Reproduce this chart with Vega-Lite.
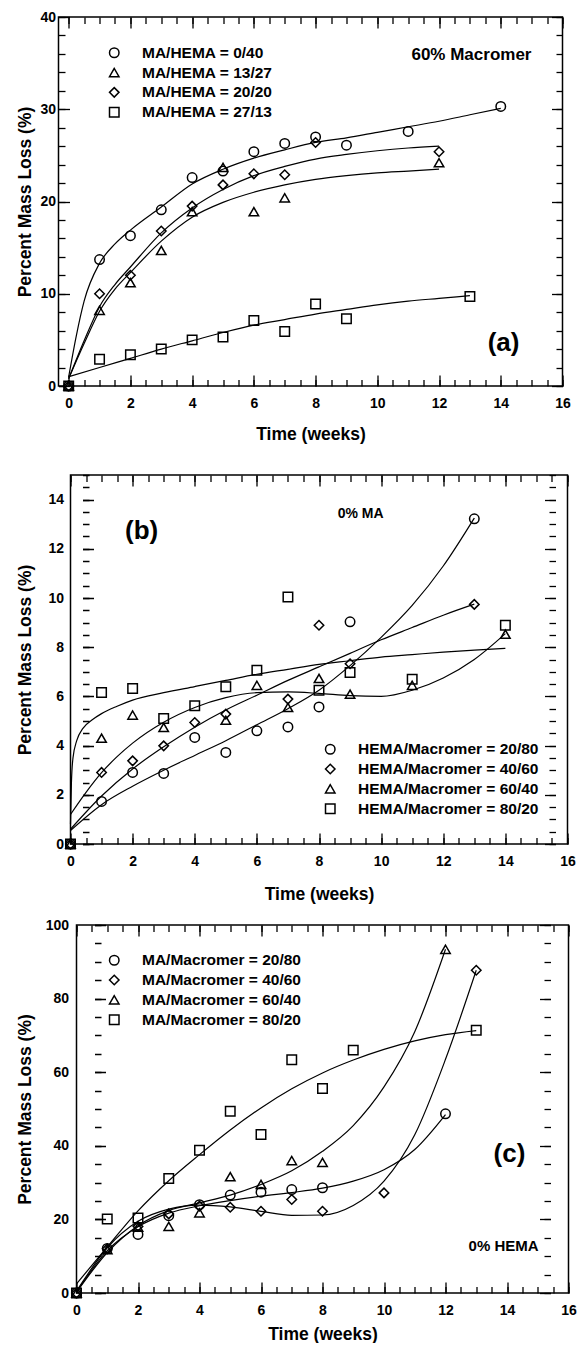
{
  "$schema": "https://vega.github.io/schema/vega-lite/v6.json",
  "padding": {"left": 16.5, "top": 10, "right": 0, "bottom": 0},
  "config": {
    "view": {"stroke": null},
    "font": "Liberation Sans",
    "axis": {"domain": false, "grid": false, "labelFont": "Liberation Sans", "labelFontWeight": "bold", "labelFontSize": 14, "labelColor": "black", "titleFont": "Liberation Sans", "titleFontWeight": "bold", "titleFontSize": 17.5, "titleColor": "black", "labelFlush": false, "labelOverlap": false, "titlePadding": 0},
    "legend": {"orient": "none", "title": null, "padding": 0, "labelFont": "Liberation Sans", "labelFontWeight": "bold", "labelFontSize": 15.5, "labelColor": "black", "labelLimit": 400, "labelOffset": 20, "symbolSize": 90, "symbolStrokeWidth": 1.5, "symbolStrokeColor": "black", "symbolFillColor": "transparent"},
    "text": {"font": "Liberation Sans", "fontWeight": "bold", "color": "black"}
  },
  "datasets": {
    "a_points": [
      {"series": "MA/HEMA = 0/40", "week": 0, "loss": 0}, {"series": "MA/HEMA = 0/40", "week": 1, "loss": 13.7}, {"series": "MA/HEMA = 0/40", "week": 2, "loss": 16.3}, {"series": "MA/HEMA = 0/40", "week": 3, "loss": 19.1}, {"series": "MA/HEMA = 0/40", "week": 4, "loss": 22.6}, {"series": "MA/HEMA = 0/40", "week": 5, "loss": 23.3}, {"series": "MA/HEMA = 0/40", "week": 6, "loss": 25.4}, {"series": "MA/HEMA = 0/40", "week": 7, "loss": 26.3}, {"series": "MA/HEMA = 0/40", "week": 8, "loss": 27.0}, {"series": "MA/HEMA = 0/40", "week": 9, "loss": 26.1}, {"series": "MA/HEMA = 0/40", "week": 11, "loss": 27.6}, {"series": "MA/HEMA = 0/40", "week": 14, "loss": 30.3},
      {"series": "MA/HEMA = 13/27", "week": 0, "loss": 0}, {"series": "MA/HEMA = 13/27", "week": 1, "loss": 8.2}, {"series": "MA/HEMA = 13/27", "week": 2, "loss": 11.2}, {"series": "MA/HEMA = 13/27", "week": 3, "loss": 14.7}, {"series": "MA/HEMA = 13/27", "week": 4, "loss": 18.9}, {"series": "MA/HEMA = 13/27", "week": 5, "loss": 23.7}, {"series": "MA/HEMA = 13/27", "week": 6, "loss": 18.9}, {"series": "MA/HEMA = 13/27", "week": 7, "loss": 20.4}, {"series": "MA/HEMA = 13/27", "week": 12, "loss": 24.2},
      {"series": "MA/HEMA = 20/20", "week": 0, "loss": 0}, {"series": "MA/HEMA = 20/20", "week": 1, "loss": 10.0}, {"series": "MA/HEMA = 20/20", "week": 2, "loss": 12.0}, {"series": "MA/HEMA = 20/20", "week": 3, "loss": 16.8}, {"series": "MA/HEMA = 20/20", "week": 4, "loss": 19.5}, {"series": "MA/HEMA = 20/20", "week": 5, "loss": 21.8}, {"series": "MA/HEMA = 20/20", "week": 6, "loss": 23.0}, {"series": "MA/HEMA = 20/20", "week": 7, "loss": 22.9}, {"series": "MA/HEMA = 20/20", "week": 8, "loss": 26.4}, {"series": "MA/HEMA = 20/20", "week": 12, "loss": 25.4},
      {"series": "MA/HEMA = 27/13", "week": 0, "loss": 0}, {"series": "MA/HEMA = 27/13", "week": 1, "loss": 2.9}, {"series": "MA/HEMA = 27/13", "week": 2, "loss": 3.4}, {"series": "MA/HEMA = 27/13", "week": 3, "loss": 4.0}, {"series": "MA/HEMA = 27/13", "week": 4, "loss": 5.0}, {"series": "MA/HEMA = 27/13", "week": 5, "loss": 5.3}, {"series": "MA/HEMA = 27/13", "week": 6, "loss": 7.1}, {"series": "MA/HEMA = 27/13", "week": 7, "loss": 5.9}, {"series": "MA/HEMA = 27/13", "week": 8, "loss": 8.9}, {"series": "MA/HEMA = 27/13", "week": 9, "loss": 7.3}, {"series": "MA/HEMA = 27/13", "week": 13, "loss": 9.7}
    ],
    "a_fit": [
      {"series": "0/40", "week": 0, "loss": 1.0}, {"series": "0/40", "week": 0.25, "loss": 5.5}, {"series": "0/40", "week": 0.5, "loss": 9.2}, {"series": "0/40", "week": 1, "loss": 13.3}, {"series": "0/40", "week": 1.5, "loss": 15.4}, {"series": "0/40", "week": 2, "loss": 16.9}, {"series": "0/40", "week": 3, "loss": 19.4}, {"series": "0/40", "week": 4, "loss": 21.9}, {"series": "0/40", "week": 5, "loss": 23.5}, {"series": "0/40", "week": 6, "loss": 24.7}, {"series": "0/40", "week": 7, "loss": 25.6}, {"series": "0/40", "week": 8, "loss": 26.4}, {"series": "0/40", "week": 9, "loss": 26.9}, {"series": "0/40", "week": 10, "loss": 27.5}, {"series": "0/40", "week": 11, "loss": 28.1}, {"series": "0/40", "week": 12, "loss": 28.7}, {"series": "0/40", "week": 13, "loss": 29.4}, {"series": "0/40", "week": 14, "loss": 30.1},
      {"series": "13/27", "week": 0, "loss": 0.8}, {"series": "13/27", "week": 0.5, "loss": 4.6}, {"series": "13/27", "week": 1, "loss": 8.1}, {"series": "13/27", "week": 1.5, "loss": 10.5}, {"series": "13/27", "week": 2, "loss": 12.3}, {"series": "13/27", "week": 3, "loss": 15.7}, {"series": "13/27", "week": 4, "loss": 18.3}, {"series": "13/27", "week": 5, "loss": 19.9}, {"series": "13/27", "week": 6, "loss": 21.0}, {"series": "13/27", "week": 7, "loss": 21.8}, {"series": "13/27", "week": 8, "loss": 22.4}, {"series": "13/27", "week": 9, "loss": 22.8}, {"series": "13/27", "week": 10, "loss": 23.1}, {"series": "13/27", "week": 11, "loss": 23.3}, {"series": "13/27", "week": 12, "loss": 23.5},
      {"series": "20/20", "week": 0, "loss": 0.8}, {"series": "20/20", "week": 0.5, "loss": 4.9}, {"series": "20/20", "week": 1, "loss": 8.6}, {"series": "20/20", "week": 1.5, "loss": 11.0}, {"series": "20/20", "week": 2, "loss": 12.9}, {"series": "20/20", "week": 3, "loss": 16.6}, {"series": "20/20", "week": 4, "loss": 19.3}, {"series": "20/20", "week": 5, "loss": 21.3}, {"series": "20/20", "week": 6, "loss": 22.8}, {"series": "20/20", "week": 7, "loss": 23.8}, {"series": "20/20", "week": 8, "loss": 24.6}, {"series": "20/20", "week": 9, "loss": 25.1}, {"series": "20/20", "week": 10, "loss": 25.5}, {"series": "20/20", "week": 11, "loss": 25.8}, {"series": "20/20", "week": 12, "loss": 26.0},
      {"series": "27/13", "week": 0, "loss": 1.0}, {"series": "27/13", "week": 1, "loss": 2.0}, {"series": "27/13", "week": 2, "loss": 3.0}, {"series": "27/13", "week": 3, "loss": 4.0}, {"series": "27/13", "week": 4, "loss": 4.9}, {"series": "27/13", "week": 5, "loss": 5.8}, {"series": "27/13", "week": 6, "loss": 6.6}, {"series": "27/13", "week": 7, "loss": 7.2}, {"series": "27/13", "week": 8, "loss": 7.8}, {"series": "27/13", "week": 9, "loss": 8.3}, {"series": "27/13", "week": 10, "loss": 8.8}, {"series": "27/13", "week": 11, "loss": 9.2}, {"series": "27/13", "week": 12, "loss": 9.5}, {"series": "27/13", "week": 13, "loss": 9.8}
    ],
    "b_points": [
      {"series": "HEMA/Macromer = 20/80", "week": 0, "loss": 0}, {"series": "HEMA/Macromer = 20/80", "week": 1, "loss": 1.73}, {"series": "HEMA/Macromer = 20/80", "week": 2, "loss": 2.91}, {"series": "HEMA/Macromer = 20/80", "week": 3, "loss": 2.87}, {"series": "HEMA/Macromer = 20/80", "week": 4, "loss": 4.33}, {"series": "HEMA/Macromer = 20/80", "week": 5, "loss": 3.72}, {"series": "HEMA/Macromer = 20/80", "week": 6, "loss": 4.6}, {"series": "HEMA/Macromer = 20/80", "week": 7, "loss": 4.76}, {"series": "HEMA/Macromer = 20/80", "week": 8, "loss": 5.57}, {"series": "HEMA/Macromer = 20/80", "week": 9, "loss": 9.03}, {"series": "HEMA/Macromer = 20/80", "week": 13, "loss": 13.22},
      {"series": "HEMA/Macromer = 40/60", "week": 0, "loss": 0}, {"series": "HEMA/Macromer = 40/60", "week": 1, "loss": 2.91}, {"series": "HEMA/Macromer = 40/60", "week": 2, "loss": 3.38}, {"series": "HEMA/Macromer = 40/60", "week": 3, "loss": 3.99}, {"series": "HEMA/Macromer = 40/60", "week": 4, "loss": 4.94}, {"series": "HEMA/Macromer = 40/60", "week": 5, "loss": 5.28}, {"series": "HEMA/Macromer = 40/60", "week": 7, "loss": 5.89}, {"series": "HEMA/Macromer = 40/60", "week": 8, "loss": 8.89}, {"series": "HEMA/Macromer = 40/60", "week": 9, "loss": 7.33}, {"series": "HEMA/Macromer = 40/60", "week": 13, "loss": 9.74},
      {"series": "HEMA/Macromer = 60/40", "week": 0, "loss": 0}, {"series": "HEMA/Macromer = 60/40", "week": 1, "loss": 4.3}, {"series": "HEMA/Macromer = 60/40", "week": 2, "loss": 5.24}, {"series": "HEMA/Macromer = 60/40", "week": 3, "loss": 4.74}, {"series": "HEMA/Macromer = 60/40", "week": 5, "loss": 5.03}, {"series": "HEMA/Macromer = 60/40", "week": 6, "loss": 6.45}, {"series": "HEMA/Macromer = 60/40", "week": 7, "loss": 5.55}, {"series": "HEMA/Macromer = 60/40", "week": 8, "loss": 6.73}, {"series": "HEMA/Macromer = 60/40", "week": 9, "loss": 6.09}, {"series": "HEMA/Macromer = 60/40", "week": 11, "loss": 6.45}, {"series": "HEMA/Macromer = 60/40", "week": 14, "loss": 8.53},
      {"series": "HEMA/Macromer = 80/20", "week": 0, "loss": 0}, {"series": "HEMA/Macromer = 80/20", "week": 1, "loss": 6.16}, {"series": "HEMA/Macromer = 80/20", "week": 2, "loss": 6.32}, {"series": "HEMA/Macromer = 80/20", "week": 3, "loss": 5.1}, {"series": "HEMA/Macromer = 80/20", "week": 4, "loss": 5.62}, {"series": "HEMA/Macromer = 80/20", "week": 5, "loss": 6.39}, {"series": "HEMA/Macromer = 80/20", "week": 6, "loss": 7.06}, {"series": "HEMA/Macromer = 80/20", "week": 7, "loss": 10.04}, {"series": "HEMA/Macromer = 80/20", "week": 8, "loss": 6.25}, {"series": "HEMA/Macromer = 80/20", "week": 9, "loss": 6.97}, {"series": "HEMA/Macromer = 80/20", "week": 11, "loss": 6.7}, {"series": "HEMA/Macromer = 80/20", "week": 14, "loss": 8.89}
    ],
    "b_fit": [
      {"series": "20/80", "week": 0, "loss": 0.55}, {"series": "20/80", "week": 1, "loss": 1.6}, {"series": "20/80", "week": 2, "loss": 2.35}, {"series": "20/80", "week": 3, "loss": 3.0}, {"series": "20/80", "week": 4, "loss": 3.6}, {"series": "20/80", "week": 5, "loss": 4.2}, {"series": "20/80", "week": 6, "loss": 4.85}, {"series": "20/80", "week": 7, "loss": 5.5}, {"series": "20/80", "week": 8, "loss": 6.25}, {"series": "20/80", "week": 9, "loss": 7.25}, {"series": "20/80", "week": 10, "loss": 8.4}, {"series": "20/80", "week": 11, "loss": 9.7}, {"series": "20/80", "week": 12, "loss": 11.3}, {"series": "20/80", "week": 13, "loss": 13.25},
      {"series": "40/60", "week": 0, "loss": 0.6}, {"series": "40/60", "week": 1, "loss": 1.95}, {"series": "40/60", "week": 2, "loss": 3.05}, {"series": "40/60", "week": 3, "loss": 3.95}, {"series": "40/60", "week": 4, "loss": 4.75}, {"series": "40/60", "week": 5, "loss": 5.45}, {"series": "40/60", "week": 6, "loss": 6.05}, {"series": "40/60", "week": 7, "loss": 6.65}, {"series": "40/60", "week": 8, "loss": 7.2}, {"series": "40/60", "week": 9, "loss": 7.75}, {"series": "40/60", "week": 10, "loss": 8.3}, {"series": "40/60", "week": 11, "loss": 8.8}, {"series": "40/60", "week": 12, "loss": 9.3}, {"series": "40/60", "week": 13, "loss": 9.75},
      {"series": "60/40", "week": 0, "loss": 1.2}, {"series": "60/40", "week": 0.5, "loss": 2.1}, {"series": "60/40", "week": 1, "loss": 2.9}, {"series": "60/40", "week": 1.5, "loss": 3.55}, {"series": "60/40", "week": 2, "loss": 4.1}, {"series": "60/40", "week": 3, "loss": 4.95}, {"series": "60/40", "week": 4, "loss": 5.55}, {"series": "60/40", "week": 5, "loss": 5.95}, {"series": "60/40", "week": 6, "loss": 6.15}, {"series": "60/40", "week": 7, "loss": 6.18}, {"series": "60/40", "week": 8, "loss": 6.12}, {"series": "60/40", "week": 9, "loss": 6.03}, {"series": "60/40", "week": 10, "loss": 6.0}, {"series": "60/40", "week": 11, "loss": 6.25}, {"series": "60/40", "week": 12, "loss": 6.75}, {"series": "60/40", "week": 13, "loss": 7.5}, {"series": "60/40", "week": 14, "loss": 8.55},
      {"series": "80/20", "week": 0, "loss": 0.8}, {"series": "80/20", "week": 0.03, "loss": 2.5}, {"series": "80/20", "week": 0.08, "loss": 3.5}, {"series": "80/20", "week": 0.2, "loss": 4.2}, {"series": "80/20", "week": 0.4, "loss": 4.7}, {"series": "80/20", "week": 0.7, "loss": 5.05}, {"series": "80/20", "week": 1, "loss": 5.3}, {"series": "80/20", "week": 1.5, "loss": 5.6}, {"series": "80/20", "week": 2, "loss": 5.85}, {"series": "80/20", "week": 3, "loss": 6.15}, {"series": "80/20", "week": 4, "loss": 6.4}, {"series": "80/20", "week": 5, "loss": 6.65}, {"series": "80/20", "week": 6, "loss": 6.9}, {"series": "80/20", "week": 7, "loss": 7.1}, {"series": "80/20", "week": 8, "loss": 7.3}, {"series": "80/20", "week": 9, "loss": 7.45}, {"series": "80/20", "week": 10, "loss": 7.6}, {"series": "80/20", "week": 11, "loss": 7.7}, {"series": "80/20", "week": 12, "loss": 7.8}, {"series": "80/20", "week": 13, "loss": 7.88}, {"series": "80/20", "week": 14, "loss": 7.95}
    ],
    "c_points": [
      {"series": "MA/Macromer = 20/80", "week": 0, "loss": 0}, {"series": "MA/Macromer = 20/80", "week": 1, "loss": 12.1}, {"series": "MA/Macromer = 20/80", "week": 2, "loss": 15.9}, {"series": "MA/Macromer = 20/80", "week": 3, "loss": 21.0}, {"series": "MA/Macromer = 20/80", "week": 4, "loss": 24.0}, {"series": "MA/Macromer = 20/80", "week": 5, "loss": 26.6}, {"series": "MA/Macromer = 20/80", "week": 6, "loss": 27.4}, {"series": "MA/Macromer = 20/80", "week": 7, "loss": 28.1}, {"series": "MA/Macromer = 20/80", "week": 8, "loss": 28.6}, {"series": "MA/Macromer = 20/80", "week": 12, "loss": 48.7},
      {"series": "MA/Macromer = 40/60", "week": 0, "loss": 0}, {"series": "MA/Macromer = 40/60", "week": 1, "loss": 12.0}, {"series": "MA/Macromer = 40/60", "week": 2, "loss": 18.1}, {"series": "MA/Macromer = 40/60", "week": 3, "loss": 21.5}, {"series": "MA/Macromer = 40/60", "week": 4, "loss": 23.6}, {"series": "MA/Macromer = 40/60", "week": 5, "loss": 23.3}, {"series": "MA/Macromer = 40/60", "week": 6, "loss": 22.2}, {"series": "MA/Macromer = 40/60", "week": 7, "loss": 25.4}, {"series": "MA/Macromer = 40/60", "week": 8, "loss": 22.2}, {"series": "MA/Macromer = 40/60", "week": 10, "loss": 27.2}, {"series": "MA/Macromer = 40/60", "week": 13, "loss": 87.7},
      {"series": "MA/Macromer = 60/40", "week": 0, "loss": 0}, {"series": "MA/Macromer = 60/40", "week": 1, "loss": 11.8}, {"series": "MA/Macromer = 60/40", "week": 2, "loss": 17.9}, {"series": "MA/Macromer = 60/40", "week": 3, "loss": 18.1}, {"series": "MA/Macromer = 60/40", "week": 4, "loss": 21.8}, {"series": "MA/Macromer = 60/40", "week": 5, "loss": 31.6}, {"series": "MA/Macromer = 60/40", "week": 6, "loss": 29.5}, {"series": "MA/Macromer = 60/40", "week": 7, "loss": 36.0}, {"series": "MA/Macromer = 60/40", "week": 8, "loss": 35.5}, {"series": "MA/Macromer = 60/40", "week": 12, "loss": 93.4},
      {"series": "MA/Macromer = 80/20", "week": 0, "loss": 0}, {"series": "MA/Macromer = 80/20", "week": 1, "loss": 20.1}, {"series": "MA/Macromer = 80/20", "week": 2, "loss": 20.4}, {"series": "MA/Macromer = 80/20", "week": 3, "loss": 31.1}, {"series": "MA/Macromer = 80/20", "week": 4, "loss": 38.8}, {"series": "MA/Macromer = 80/20", "week": 5, "loss": 49.4}, {"series": "MA/Macromer = 80/20", "week": 6, "loss": 43.1}, {"series": "MA/Macromer = 80/20", "week": 7, "loss": 63.4}, {"series": "MA/Macromer = 80/20", "week": 8, "loss": 55.6}, {"series": "MA/Macromer = 80/20", "week": 9, "loss": 66.0}, {"series": "MA/Macromer = 80/20", "week": 13, "loss": 71.4}
    ],
    "c_fit": [
      {"series": "20/80", "week": 0, "loss": 0.3}, {"series": "20/80", "week": 1, "loss": 11.5}, {"series": "20/80", "week": 2, "loss": 18.0}, {"series": "20/80", "week": 3, "loss": 21.7}, {"series": "20/80", "week": 4, "loss": 23.7}, {"series": "20/80", "week": 5, "loss": 25.1}, {"series": "20/80", "week": 6, "loss": 26.3}, {"series": "20/80", "week": 7, "loss": 27.3}, {"series": "20/80", "week": 8, "loss": 28.5}, {"series": "20/80", "week": 9, "loss": 30.4}, {"series": "20/80", "week": 10, "loss": 33.5}, {"series": "20/80", "week": 11, "loss": 39.0}, {"series": "20/80", "week": 12, "loss": 48.5},
      {"series": "40/60", "week": 0, "loss": 0.5}, {"series": "40/60", "week": 1, "loss": 12.3}, {"series": "40/60", "week": 2, "loss": 19.5}, {"series": "40/60", "week": 3, "loss": 22.8}, {"series": "40/60", "week": 4, "loss": 23.9}, {"series": "40/60", "week": 5, "loss": 23.4}, {"series": "40/60", "week": 6, "loss": 22.2}, {"series": "40/60", "week": 7, "loss": 21.1}, {"series": "40/60", "week": 8, "loss": 21.2}, {"series": "40/60", "week": 9, "loss": 23.8}, {"series": "40/60", "week": 10, "loss": 30.4}, {"series": "40/60", "week": 11, "loss": 43.0}, {"series": "40/60", "week": 12, "loss": 63.5}, {"series": "40/60", "week": 13, "loss": 87.7},
      {"series": "60/40", "week": 0, "loss": 0.2}, {"series": "60/40", "week": 1, "loss": 11.0}, {"series": "60/40", "week": 2, "loss": 18.3}, {"series": "60/40", "week": 3, "loss": 22.4}, {"series": "60/40", "week": 4, "loss": 24.5}, {"series": "60/40", "week": 5, "loss": 26.6}, {"series": "60/40", "week": 6, "loss": 29.5}, {"series": "60/40", "week": 7, "loss": 33.2}, {"series": "60/40", "week": 8, "loss": 38.5}, {"series": "60/40", "week": 9, "loss": 45.5}, {"series": "60/40", "week": 10, "loss": 56.0}, {"series": "60/40", "week": 11, "loss": 71.0}, {"series": "60/40", "week": 12, "loss": 93.4},
      {"series": "80/20", "week": 0, "loss": 2.5}, {"series": "80/20", "week": 1, "loss": 12.5}, {"series": "80/20", "week": 2, "loss": 22.3}, {"series": "80/20", "week": 3, "loss": 30.5}, {"series": "80/20", "week": 4, "loss": 37.6}, {"series": "80/20", "week": 5, "loss": 44.3}, {"series": "80/20", "week": 6, "loss": 50.3}, {"series": "80/20", "week": 7, "loss": 55.5}, {"series": "80/20", "week": 8, "loss": 59.8}, {"series": "80/20", "week": 9, "loss": 63.3}, {"series": "80/20", "week": 10, "loss": 66.2}, {"series": "80/20", "week": 11, "loss": 68.5}, {"series": "80/20", "week": 12, "loss": 70.2}, {"series": "80/20", "week": 13, "loss": 71.3}
    ]
  },
  "resolve": {"scale": {"x": "independent", "y": "independent", "shape": "independent"}, "legend": {"shape": "independent"}},
  "spacing": 31,
  "vconcat": [
    {
      "width": 504, "height": 369,
      "resolve": {"scale": {"x": "independent", "y": "independent"}, "axis": {"x": "independent", "y": "independent"}},
      "layer": [
        {
          "data": {"values": [{}]},
          "mark": {"type": "rect", "filled": false, "color": "black", "strokeWidth": 1.5},
          "encoding": {
            "x": {"datum": -0.33, "type": "quantitative", "scale": {"domain": [-0.33, 16], "range": [0, 504], "nice": false, "zero": false}, "axis": {"orient": "bottom", "values": [0, 2, 4, 6, 8, 10, 12, 14, 16], "ticks": false, "labelPadding": 10.5, "title": "Time (weeks)", "minExtent": 39.4, "maxExtent": 39.4}},
            "x2": {"datum": 16},
            "y": {"datum": 0, "type": "quantitative", "scale": {"domain": [0, 40], "nice": false, "zero": false}, "axis": {"orient": "left", "values": [0, 10, 20, 30, 40], "ticks": false, "labelPadding": 3, "title": "Percent Mass Loss (%)", "minExtent": 24, "maxExtent": 24}},
            "y2": {"datum": 40}
          }
        },
        {
          "data": {"name": "a_points"},
          "mark": {"type": "point", "filled": false, "color": "black", "strokeWidth": 1.5, "size": 90, "opacity": 1},
          "encoding": {
            "x": {"field": "week", "type": "quantitative", "scale": {"domain": [-0.33, 16], "range": [0, 504], "nice": false, "zero": false}, "axis": {"orient": "bottom", "values": [0, 2, 4, 6, 8, 10, 12, 14, 16], "labels": false, "ticks": false, "grid": true, "gridColor": "black", "gridWidth": 1.3, "gridOpacity": 1, "gridDash": [11, 2000], "title": null}},
            "y": {"field": "loss", "type": "quantitative", "scale": {"domain": [0, 40], "nice": false, "zero": false}, "axis": {"orient": "left", "values": [0, 10, 20, 30, 40], "labels": false, "ticks": false, "grid": true, "gridColor": "black", "gridWidth": 1.3, "gridOpacity": 1, "gridDash": [11, 2000], "title": null}},
            "shape": {"field": "series", "type": "nominal", "scale": {"domain": ["MA/HEMA = 0/40", "MA/HEMA = 13/27", "MA/HEMA = 20/20", "MA/HEMA = 27/13"], "range": ["circle", "triangle-up", "diamond", "square"]}, "legend": {"legendX": 48, "legendY": 28, "rowPadding": 2.8}}
          }
        },
        {
          "data": {"name": "a_fit"},
          "mark": {"type": "line", "color": "black", "strokeWidth": 1.2, "interpolate": "monotone"},
          "encoding": {
            "x": {"field": "week", "type": "quantitative", "scale": {"domain": [-0.33, 16], "range": [0, 504], "nice": false, "zero": false}, "axis": {"orient": "bottom", "values": [0, 0.5, 1, 1.5, 2, 2.5, 3, 3.5, 4, 4.5, 5, 5.5, 6, 6.5, 7, 7.5, 8, 8.5, 9, 9.5, 10, 10.5, 11, 11.5, 12, 12.5, 13, 13.5, 14, 14.5, 15, 15.5, 16], "labels": false, "ticks": false, "grid": true, "gridColor": "black", "gridWidth": 1.3, "gridOpacity": 1, "gridDash": [6.5, 2000], "title": null}},
            "y": {"field": "loss", "type": "quantitative", "scale": {"domain": [0, 40], "nice": false, "zero": false}, "axis": {"orient": "left", "values": [0, 2, 4, 6, 8, 10, 12, 14, 16, 18, 20, 22, 24, 26, 28, 30, 32, 34, 36, 38, 40], "labels": false, "ticks": false, "grid": true, "gridColor": "black", "gridWidth": 1.3, "gridOpacity": 1, "gridDash": [6.5, 2000], "title": null}},
            "detail": {"field": "series", "type": "nominal"}
          }
        },
        {
          "data": {"values": [{"note": "60% Macromer"}]},
          "mark": {"type": "text", "fontSize": 17, "align": "center", "baseline": "middle"},
          "encoding": {
            "x": {"datum": 13.05, "type": "quantitative", "scale": {"domain": [-0.33, 16], "range": [0, 504], "nice": false, "zero": false}, "axis": {"orient": "top", "values": [0, 2, 4, 6, 8, 10, 12, 14, 16], "labels": false, "ticks": false, "grid": true, "gridColor": "black", "gridWidth": 1.3, "gridOpacity": 1, "gridDash": [11, 2000], "title": null}},
            "y": {"datum": 35.9, "type": "quantitative", "scale": {"domain": [0, 40], "nice": false, "zero": false}, "axis": {"orient": "right", "values": [0, 10, 20, 30, 40], "labels": false, "ticks": false, "grid": true, "gridColor": "black", "gridWidth": 1.3, "gridOpacity": 1, "gridDash": [11, 2000], "title": null}},
            "text": {"field": "note"}
          }
        },
        {
          "data": {"values": [{"note": "(a)"}]},
          "mark": {"type": "text", "fontSize": 26, "align": "center", "baseline": "middle"},
          "encoding": {
            "x": {"datum": 14.09, "type": "quantitative", "scale": {"domain": [-0.33, 16], "range": [0, 504], "nice": false, "zero": false}, "axis": {"orient": "top", "values": [0, 0.5, 1, 1.5, 2, 2.5, 3, 3.5, 4, 4.5, 5, 5.5, 6, 6.5, 7, 7.5, 8, 8.5, 9, 9.5, 10, 10.5, 11, 11.5, 12, 12.5, 13, 13.5, 14, 14.5, 15, 15.5, 16], "labels": false, "ticks": false, "grid": true, "gridColor": "black", "gridWidth": 1.3, "gridOpacity": 1, "gridDash": [6.5, 2000], "title": null}},
            "y": {"datum": 4.66, "type": "quantitative", "scale": {"domain": [0, 40], "nice": false, "zero": false}, "axis": {"orient": "right", "values": [0, 2, 4, 6, 8, 10, 12, 14, 16, 18, 20, 22, 24, 26, 28, 30, 32, 34, 36, 38, 40], "labels": false, "ticks": false, "grid": true, "gridColor": "black", "gridWidth": 1.3, "gridOpacity": 1, "gridDash": [6.5, 2000], "title": null}},
            "text": {"field": "note"}
          }
        }
      ]
    },
    {
      "spacing": 15,
      "resolve": {"scale": {"x": "independent", "y": "independent", "shape": "independent"}, "legend": {"shape": "independent"}},
      "vconcat": [
        {
          "width": 509, "height": 369,
          "resolve": {"scale": {"x": "independent", "y": "independent"}, "axis": {"x": "independent", "y": "independent"}},
          "layer": [
            {
              "data": {"values": [{}]},
              "mark": {"type": "rect", "filled": false, "color": "black", "strokeWidth": 1.5},
              "encoding": {
                "x": {"datum": 0, "type": "quantitative", "scale": {"domain": [0, 16], "range": [12, 509], "nice": false, "zero": false}, "axis": {"orient": "bottom", "values": [0, 2, 4, 6, 8, 10, 12, 14, 16], "ticks": false, "labelPadding": 10.5, "title": "Time (weeks)", "minExtent": 41.4, "maxExtent": 41.4}},
                "x2": {"datum": 16},
                "y": {"datum": 0, "type": "quantitative", "scale": {"domain": [0, 15], "nice": false, "zero": false}, "axis": {"orient": "left", "offset": -12, "values": [0, 2, 4, 6, 8, 10, 12, 14], "ticks": false, "labelPadding": 7, "title": "Percent Mass Loss (%)", "minExtent": 36, "maxExtent": 36}},
                "y2": {"datum": 15}
              }
            },
            {
              "data": {"name": "b_points"},
              "mark": {"type": "point", "filled": false, "color": "black", "strokeWidth": 1.5, "size": 90, "opacity": 1},
              "encoding": {
                "x": {"field": "week", "type": "quantitative", "scale": {"domain": [0, 16], "range": [12, 509], "nice": false, "zero": false}, "axis": {"orient": "bottom", "values": [0, 2, 4, 6, 8, 10, 12, 14, 16], "labels": false, "ticks": false, "grid": true, "gridColor": "black", "gridWidth": 1.3, "gridOpacity": 1, "gridDash": [11, 2000], "title": null}},
                "y": {"field": "loss", "type": "quantitative", "scale": {"domain": [0, 15], "nice": false, "zero": false}, "axis": {"orient": "left", "values": [0, 2, 4, 6, 8, 10, 12, 14], "labels": false, "ticks": false, "grid": true, "gridColor": "black", "gridWidth": 1.3, "gridOpacity": 1, "gridDash": [0, 12, 11, 2000], "title": null}},
                "shape": {"field": "series", "type": "nominal", "scale": {"domain": ["HEMA/Macromer = 20/80", "HEMA/Macromer = 40/60", "HEMA/Macromer = 60/40", "HEMA/Macromer = 80/20"], "range": ["circle", "diamond", "triangle-up", "square"]}, "legend": {"legendX": 264, "legendY": 266.5, "rowPadding": 2.8}}
              }
            },
            {
              "data": {"name": "b_fit"},
              "mark": {"type": "line", "color": "black", "strokeWidth": 1.2, "interpolate": "monotone"},
              "encoding": {
                "x": {"field": "week", "type": "quantitative", "scale": {"domain": [0, 16], "range": [12, 509], "nice": false, "zero": false}, "axis": {"orient": "bottom", "values": [0, 0.5, 1, 1.5, 2, 2.5, 3, 3.5, 4, 4.5, 5, 5.5, 6, 6.5, 7, 7.5, 8, 8.5, 9, 9.5, 10, 10.5, 11, 11.5, 12, 12.5, 13, 13.5, 14, 14.5, 15, 15.5, 16], "labels": false, "ticks": false, "grid": true, "gridColor": "black", "gridWidth": 1.3, "gridOpacity": 1, "gridDash": [6.5, 2000], "title": null}},
                "y": {"field": "loss", "type": "quantitative", "scale": {"domain": [0, 15], "nice": false, "zero": false}, "axis": {"orient": "left", "values": [0, 0.5, 1, 1.5, 2, 2.5, 3, 3.5, 4, 4.5, 5, 5.5, 6, 6.5, 7, 7.5, 8, 8.5, 9, 9.5, 10, 10.5, 11, 11.5, 12, 12.5, 13, 13.5, 14, 14.5, 15], "labels": false, "ticks": false, "grid": true, "gridColor": "black", "gridWidth": 1.3, "gridOpacity": 1, "gridDash": [0, 12, 6.5, 2000], "title": null}},
                "detail": {"field": "series", "type": "nominal"}
              }
            },
            {
              "data": {"values": [{"note": "0% MA"}]},
              "mark": {"type": "text", "fontSize": 14, "align": "center", "baseline": "middle"},
              "encoding": {
                "x": {"datum": 9.34, "type": "quantitative", "scale": {"domain": [0, 16], "range": [12, 509], "nice": false, "zero": false}, "axis": {"orient": "top", "values": [0, 2, 4, 6, 8, 10, 12, 14, 16], "labels": false, "ticks": false, "grid": true, "gridColor": "black", "gridWidth": 1.3, "gridOpacity": 1, "gridDash": [11, 2000], "title": null}},
                "y": {"datum": 13.43, "type": "quantitative", "scale": {"domain": [0, 15], "nice": false, "zero": false}, "axis": {"orient": "right", "values": [0, 2, 4, 6, 8, 10, 12, 14], "labels": false, "ticks": false, "grid": true, "gridColor": "black", "gridWidth": 1.3, "gridOpacity": 1, "gridDash": [11, 2000], "title": null}},
                "text": {"field": "note"}
              }
            },
            {
              "data": {"values": [{"note": "(b)"}]},
              "mark": {"type": "text", "fontSize": 26, "align": "center", "baseline": "middle"},
              "encoding": {
                "x": {"datum": 2.29, "type": "quantitative", "scale": {"domain": [0, 16], "range": [12, 509], "nice": false, "zero": false}, "axis": {"orient": "top", "values": [0, 0.5, 1, 1.5, 2, 2.5, 3, 3.5, 4, 4.5, 5, 5.5, 6, 6.5, 7, 7.5, 8, 8.5, 9, 9.5, 10, 10.5, 11, 11.5, 12, 12.5, 13, 13.5, 14, 14.5, 15, 15.5, 16], "labels": false, "ticks": false, "grid": true, "gridColor": "black", "gridWidth": 1.3, "gridOpacity": 1, "gridDash": [6.5, 2000], "title": null}},
                "y": {"datum": 12.72, "type": "quantitative", "scale": {"domain": [0, 15], "nice": false, "zero": false}, "axis": {"orient": "right", "values": [0, 0.5, 1, 1.5, 2, 2.5, 3, 3.5, 4, 4.5, 5, 5.5, 6, 6.5, 7, 7.5, 8, 8.5, 9, 9.5, 10, 10.5, 11, 11.5, 12, 12.5, 13, 13.5, 14, 14.5, 15], "labels": false, "ticks": false, "grid": true, "gridColor": "black", "gridWidth": 1.3, "gridOpacity": 1, "gridDash": [6.5, 2000], "title": null}},
                "text": {"field": "note"}
              }
            }
          ]
        },
        {
          "width": 510, "height": 368,
          "resolve": {"scale": {"x": "independent", "y": "independent"}, "axis": {"x": "independent", "y": "independent"}},
          "layer": [
            {
              "data": {"values": [{}]},
              "mark": {"type": "rect", "filled": false, "color": "black", "strokeWidth": 1.5},
              "encoding": {
                "x": {"datum": 0, "type": "quantitative", "scale": {"domain": [0, 16], "range": [18, 510], "nice": false, "zero": false}, "axis": {"orient": "bottom", "values": [0, 2, 4, 6, 8, 10, 12, 14, 16], "ticks": false, "labelPadding": 10.5, "title": "Time (weeks)", "minExtent": 32.4, "maxExtent": 32.4}},
                "x2": {"datum": 16},
                "y": {"datum": 0, "type": "quantitative", "scale": {"domain": [0, 100], "nice": false, "zero": false}, "axis": {"orient": "left", "offset": -18, "values": [0, 20, 40, 60, 80, 100], "ticks": false, "labelPadding": 8, "title": "Percent Mass Loss (%)", "minExtent": 42, "maxExtent": 42}},
                "y2": {"datum": 100}
              }
            },
            {
              "data": {"name": "c_points"},
              "mark": {"type": "point", "filled": false, "color": "black", "strokeWidth": 1.5, "size": 90, "opacity": 1},
              "encoding": {
                "x": {"field": "week", "type": "quantitative", "scale": {"domain": [0, 16], "range": [18, 510], "nice": false, "zero": false}, "axis": {"orient": "bottom", "values": [0, 2, 4, 6, 8, 10, 12, 14, 16], "labels": false, "ticks": false, "grid": true, "gridColor": "black", "gridWidth": 1.3, "gridOpacity": 1, "gridDash": [11, 2000], "title": null}},
                "y": {"field": "loss", "type": "quantitative", "scale": {"domain": [0, 100], "nice": false, "zero": false}, "axis": {"orient": "left", "values": [0, 20, 40, 60, 80, 100], "labels": false, "ticks": false, "grid": true, "gridColor": "black", "gridWidth": 1.3, "gridOpacity": 1, "gridDash": [0, 18, 11, 2000], "title": null}},
                "shape": {"field": "series", "type": "nominal", "scale": {"domain": ["MA/Macromer = 20/80", "MA/Macromer = 40/60", "MA/Macromer = 60/40", "MA/Macromer = 80/20"], "range": ["circle", "diamond", "triangle-up", "square"]}, "legend": {"legendX": 48, "legendY": 27.5, "rowPadding": 2.8}}
              }
            },
            {
              "data": {"name": "c_fit"},
              "mark": {"type": "line", "color": "black", "strokeWidth": 1.2, "interpolate": "monotone"},
              "encoding": {
                "x": {"field": "week", "type": "quantitative", "scale": {"domain": [0, 16], "range": [18, 510], "nice": false, "zero": false}, "axis": {"orient": "bottom", "values": [0, 0.5, 1, 1.5, 2, 2.5, 3, 3.5, 4, 4.5, 5, 5.5, 6, 6.5, 7, 7.5, 8, 8.5, 9, 9.5, 10, 10.5, 11, 11.5, 12, 12.5, 13, 13.5, 14, 14.5, 15, 15.5, 16], "labels": false, "ticks": false, "grid": true, "gridColor": "black", "gridWidth": 1.3, "gridOpacity": 1, "gridDash": [6.5, 2000], "title": null}},
                "y": {"field": "loss", "type": "quantitative", "scale": {"domain": [0, 100], "nice": false, "zero": false}, "axis": {"orient": "left", "values": [0, 5, 10, 15, 20, 25, 30, 35, 40, 45, 50, 55, 60, 65, 70, 75, 80, 85, 90, 95, 100], "labels": false, "ticks": false, "grid": true, "gridColor": "black", "gridWidth": 1.3, "gridOpacity": 1, "gridDash": [0, 18, 6.5, 2000], "title": null}},
                "detail": {"field": "series", "type": "nominal"}
              }
            },
            {
              "data": {"values": [{"note": "(c)"}]},
              "mark": {"type": "text", "fontSize": 26, "align": "center", "baseline": "middle"},
              "encoding": {
                "x": {"datum": 14.08, "type": "quantitative", "scale": {"domain": [0, 16], "range": [18, 510], "nice": false, "zero": false}, "axis": {"orient": "top", "values": [0, 2, 4, 6, 8, 10, 12, 14, 16], "labels": false, "ticks": false, "grid": true, "gridColor": "black", "gridWidth": 1.3, "gridOpacity": 1, "gridDash": [11, 2000], "title": null}},
                "y": {"datum": 37.8, "type": "quantitative", "scale": {"domain": [0, 100], "nice": false, "zero": false}, "axis": {"orient": "right", "values": [0, 20, 40, 60, 80, 100], "labels": false, "ticks": false, "grid": true, "gridColor": "black", "gridWidth": 1.3, "gridOpacity": 1, "gridDash": [11, 2000], "title": null}},
                "text": {"field": "note"}
              }
            },
            {
              "data": {"values": [{"note": "0% HEMA"}]},
              "mark": {"type": "text", "fontSize": 15, "align": "center", "baseline": "middle"},
              "encoding": {
                "x": {"datum": 13.89, "type": "quantitative", "scale": {"domain": [0, 16], "range": [18, 510], "nice": false, "zero": false}, "axis": {"orient": "top", "values": [0, 0.5, 1, 1.5, 2, 2.5, 3, 3.5, 4, 4.5, 5, 5.5, 6, 6.5, 7, 7.5, 8, 8.5, 9, 9.5, 10, 10.5, 11, 11.5, 12, 12.5, 13, 13.5, 14, 14.5, 15, 15.5, 16], "labels": false, "ticks": false, "grid": true, "gridColor": "black", "gridWidth": 1.3, "gridOpacity": 1, "gridDash": [6.5, 2000], "title": null}},
                "y": {"datum": 12.8, "type": "quantitative", "scale": {"domain": [0, 100], "nice": false, "zero": false}, "axis": {"orient": "right", "values": [0, 5, 10, 15, 20, 25, 30, 35, 40, 45, 50, 55, 60, 65, 70, 75, 80, 85, 90, 95, 100], "labels": false, "ticks": false, "grid": true, "gridColor": "black", "gridWidth": 1.3, "gridOpacity": 1, "gridDash": [6.5, 2000], "title": null}},
                "text": {"field": "note"}
              }
            }
          ]
        }
      ]
    }
  ]
}
